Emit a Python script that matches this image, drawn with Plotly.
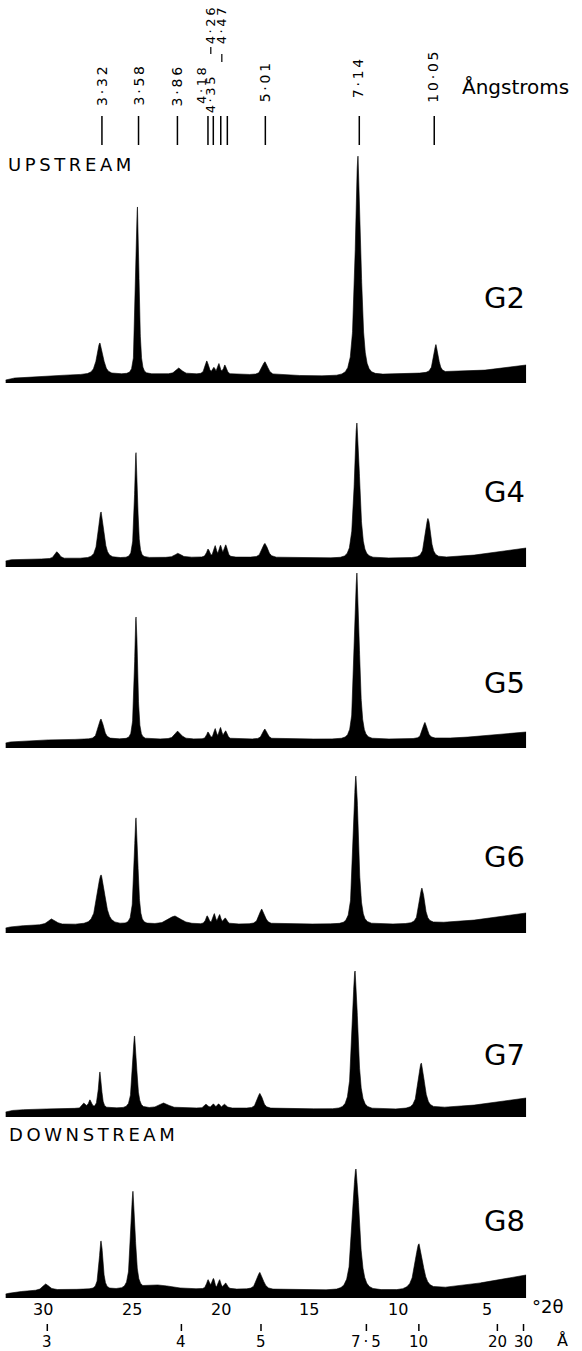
import numpy as np
import plotly.graph_objects as go

W, H = 582, 1351
FONT = "DejaVu Sans"

# ---------------- data ----------------
PANELS = ["G2", "G4", "G5", "G6", "G7", "G8"]

# d-spacing marker labels and their drawn 2θ positions
MARKER_LABELS = ["3·32", "3·58", "3·86", "4·18", "4·26", "4·35", "4·47", "5·01", "7·14", "10·05"]
MARKER_2THETA = [26.68, 24.62, 22.43, 20.71, 20.41, 19.99, 19.62, 17.48, 12.19, 7.97]

# bottom axis
TWO_THETA_TICKS = [30, 25, 20, 15, 10, 5]
ANGSTROM_TICKS = [3, 4, 5, 7.5, 10, 20, 30]
ANGSTROM_TICK_LABELS = ["3", "4", "5", "7·5", "10", "20", "30"]
WAVELENGTH = 1.5406  # Cu K-alpha, Å

# background intensity (relative units) at these 2θ
BG_2THETA = [32.1, 31.6, 30.0, 27.0, 20.0, 14.0, 10.0, 7.0, 5.0, 2.8]
BG_G2 = [3, 5, 7, 9, 9, 7, 9, 11, 13, 18]
BG_G4 = [6, 8, 8, 9, 10, 9, 9, 10, 13, 19]
BG_G5 = [5, 7, 8, 9, 9, 9, 9, 10, 12, 16]
BG_G6 = [5, 7, 8, 9, 9, 9, 9, 11, 14, 20]
BG_G7 = [5, 7, 8, 9, 9, 8, 8, 10, 13, 19]
BG_G8 = [4, 6, 8, 9, 9, 8, 8, 11, 16, 23]

# peaks: [2θ, height above background, half width (deg)]
PEAKS_G2 = [[26.79, 31, 0.20], [24.68, 167, 0.10], [22.34, 6, 0.20],
            [20.77, 13, 0.12], [20.37, 6, 0.08], [20.09, 10, 0.08], [19.75, 9, 0.10],
            [17.50, 13, 0.18], [12.26, 219, 0.18], [7.87, 28, 0.15]]
PEAKS_G4 = [[29.21, 7, 0.15], [26.73, 46, 0.18], [24.76, 105, 0.10], [22.40, 4, 0.20],
            [20.70, 8, 0.10], [20.30, 11, 0.08], [20.00, 11, 0.08], [19.70, 12, 0.10],
            [17.50, 14, 0.18], [12.32, 135, 0.17], [8.32, 39, 0.17]]
PEAKS_G5 = [[26.73, 20, 0.17], [24.76, 122, 0.10], [22.40, 8, 0.20],
            [20.70, 7, 0.10], [20.30, 10, 0.08], [20.00, 11, 0.08], [19.70, 8, 0.10],
            [17.50, 10, 0.15], [12.32, 166, 0.15], [8.49, 16, 0.15]]
PEAKS_G6 = [[29.49, 6, 0.25], [26.73, 49, 0.25], [24.76, 106, 0.12], [22.57, 8, 0.40],
            [20.75, 8, 0.10], [20.35, 10, 0.08], [20.05, 9, 0.08], [19.72, 6, 0.10],
            [17.67, 15, 0.18], [12.38, 148, 0.16], [8.66, 35, 0.17]]
PEAKS_G7 = [[27.69, 5, 0.10], [27.35, 8, 0.10], [26.79, 36, 0.10], [24.84, 72, 0.13],
            [23.19, 5, 0.30], [20.80, 4, 0.10], [20.40, 4, 0.08], [20.10, 4, 0.08],
            [19.75, 4, 0.10], [17.78, 15, 0.17], [12.43, 138, 0.18], [8.70, 45, 0.20]]
PEAKS_G8 = [[29.83, 6, 0.20], [26.73, 48, 0.12], [24.93, 97, 0.14], [23.50, 4, 0.80],
            [20.70, 9, 0.10], [20.40, 10, 0.08], [20.05, 9, 0.08], [19.70, 6, 0.10],
            [17.78, 17, 0.20], [12.38, 121, 0.22], [8.83, 45, 0.25]]

BGS = [BG_G2, BG_G4, BG_G5, BG_G6, BG_G7, BG_G8]
PEAKS = [PEAKS_G2, PEAKS_G4, PEAKS_G5, PEAKS_G6, PEAKS_G7, PEAKS_G8]

# ---------------- layout constants (pixels) ----------------
BASE_PX = [383, 567, 748, 933, 1117, 1298]   # zero line of each pattern
LABEL_PX = [298, 492, 683, 857, 1055, 1221]  # centre of G-labels
PANEL_H = 250
X_RANGE = [32.42, -0.35]
PX_PER_DEG = W / (X_RANGE[0] - X_RANGE[1])
SCAN = (2.8, 32.1)
M = 2.0


def py(px):
    return 1 - px / H


def profile(bg, peaks):
    x = np.linspace(SCAN[0], SCAN[1], 5000)
    x = np.unique(np.concatenate([x, [p[0] for p in peaks]]))
    y = np.interp(x, BG_2THETA[::-1], bg[::-1])
    k = 2 ** (1 / M) - 1
    for c, a, w in peaks:
        y = y + a / (1 + k * ((x - c) / w) ** 2) ** M
    return x, y


fig = go.Figure()
layout = dict(
    width=W, height=H, margin=dict(l=0, r=0, t=0, b=0),
    paper_bgcolor="white", plot_bgcolor="rgba(0,0,0,0)", showlegend=False,
    xaxis=dict(range=X_RANGE, visible=False, domain=[0, 1], anchor="y6"),
)
for i, name in enumerate(PANELS):
    x, y = profile(BGS[i], PEAKS[i])
    yname = "y" if i == 0 else f"y{i+1}"
    fig.add_trace(go.Scatter(x=x, y=y, xaxis="x", yaxis=yname, mode="lines",
                             line=dict(color="black", width=0.6), fill="tozeroy",
                             fillcolor="black", hoverinfo="skip", name=name))
    key = "yaxis" if i == 0 else f"yaxis{i+1}"
    b = BASE_PX[i]
    layout[key] = dict(domain=[py(b), py(b - PANEL_H)], range=[0, PANEL_H],
                       visible=False, anchor="x")
fig.update_layout(**layout)

shapes = []
annotations = []
TS = "\u2009"


def spaced(s):
    return TS.join(list(s))


# top markers: label x-shift (px), bottom edge (px) and size of each rotated label
label_shift = [0, 0, 0, -6.5, -2.5, -10, -5.5, 0, -1, -1]
label_bottom = [107, 107, 107, 105, 45, 114, 45, 103, 99, 104]
label_size = [14, 14, 14, 13, 13, 13, 13, 14, 14, 14]
for lab, t, dx, bot, fs in zip(MARKER_LABELS, MARKER_2THETA, label_shift,
                               label_bottom, label_size):
    shapes.append(dict(type="line", xref="x", yref="paper", x0=t, x1=t,
                       y0=py(145), y1=py(116), line=dict(color="black", width=1.5)))
    annotations.append(dict(text=spaced(lab), x=t, y=py(bot), xref="x", yref="paper",
                            xanchor="center", yanchor="bottom", textangle=-90,
                            xshift=dx, showarrow=False, borderpad=0,
                            font=dict(family=FONT, size=fs, color="black")))
# leader dashes of the crowded labels
for idx, a, b in [(4, 47, 54), (6, 54, 62)]:
    xv = MARKER_2THETA[idx] - label_shift[idx] / PX_PER_DEG
    shapes.append(dict(type="line", xref="x", yref="paper", x0=xv, x1=xv,
                       y0=py(b), y1=py(a), line=dict(color="black", width=1.2)))

annotations.append(dict(text="Ångstroms", x=460 / W, y=py(87), xref="paper", yref="paper",
                        xanchor="left", yanchor="middle", showarrow=False,
                        font=dict(family=FONT, size=20, color="black")))
annotations.append(dict(text=spaced("UPSTREAM"), x=6 / W, y=py(164), xref="paper",
                        yref="paper", xanchor="left", yanchor="middle", showarrow=False,
                        font=dict(family=FONT, size=18, color="black")))
annotations.append(dict(text=spaced("DOWNSTREAM"), x=7 / W, y=py(1134), xref="paper",
                        yref="paper", xanchor="left", yanchor="middle", showarrow=False,
                        font=dict(family=FONT, size=18, color="black")))
for name, ly in zip(PANELS, LABEL_PX):
    annotations.append(dict(text=name, x=482 / W, y=py(ly), xref="paper", yref="paper",
                            xanchor="left", yanchor="middle", showarrow=False,
                            font=dict(family=FONT, size=29, color="black")))

# bottom scales
for t in TWO_THETA_TICKS:
    annotations.append(dict(text=str(t), x=t, y=py(1309), xref="x", yref="paper",
                            xanchor="center", yanchor="middle", showarrow=False,
                            font=dict(family=FONT, size=16, color="black")))
annotations.append(dict(text="°2θ", x=547 / W, y=py(1306), xref="paper", yref="paper",
                        xanchor="center", yanchor="middle", showarrow=False,
                        font=dict(family=FONT, size=18, color="black")))
for d, lab in zip(ANGSTROM_TICKS, ANGSTROM_TICK_LABELS):
    t = float(np.degrees(2 * np.arcsin(WAVELENGTH / (2 * d))))
    shapes.append(dict(type="line", xref="x", yref="paper", x0=t, x1=t,
                       y0=py(1331), y1=py(1324), line=dict(color="black", width=1.5)))
    annotations.append(dict(text=spaced(lab) if "·" in lab else lab, x=t, y=py(1342),
                            xref="x", yref="paper", xanchor="center", yanchor="middle",
                            showarrow=False, borderpad=0,
                            font=dict(family=FONT, size=15, color="black")))
annotations.append(dict(text="Å", x=562 / W, y=py(1340), xref="paper", yref="paper",
                        xanchor="center", yanchor="middle", showarrow=False, borderpad=0,
                        font=dict(family=FONT, size=16, color="black")))

fig.update_layout(shapes=shapes, annotations=annotations)
fig.write_html("out.html",
               config={"displayModeBar": False, "staticPlot": True},
               post_script="document.body.style.margin='0';"
                           "document.body.style.overflow='hidden';")
